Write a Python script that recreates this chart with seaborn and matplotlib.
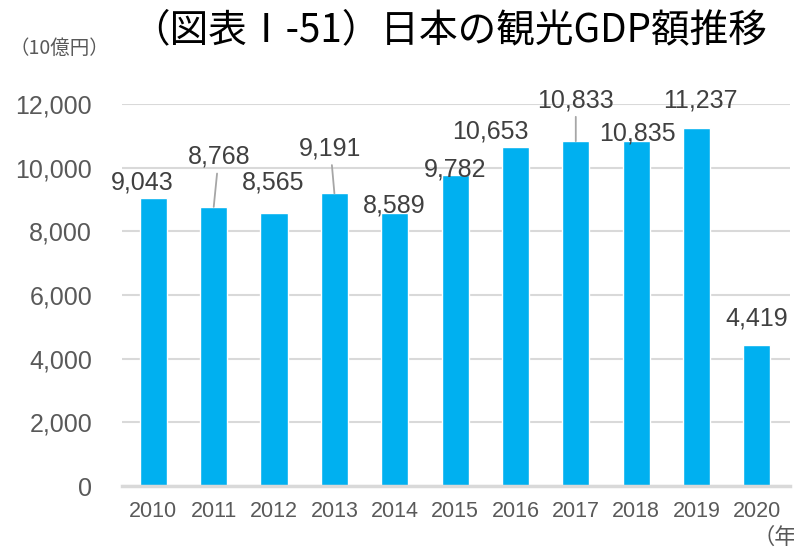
import matplotlib
matplotlib.use("Agg")
import matplotlib.pyplot as plt
import seaborn as sns
import pandas as pd

years = ["2010", "2011", "2012", "2013", "2014", "2015", "2016", "2017", "2018", "2019", "2020"]
values = [9043, 8768, 8565, 9191, 8589, 9782, 10653, 10833, 10835, 11237, 4419]
value_labels = ["9,043", "8,768", "8,565", "9,191", "8,589", "9,782", "10,653", "10,833", "10,835", "11,237", "4,419"]
y_ticks = [0, 2000, 4000, 6000, 8000, 10000, 12000]
title = "（図表Ⅰ-51）日本の観光GDP額推移"
unit_label = "（10億円）"
year_label = "（年"

# label placement (pixel offsets from the bar top) and leader-line flags
label_offsets = [(-11, 16), (5, 50), (-1, 31), (-4, 45), (-1, 7), (0, 5),
                 (-25, 15), (0, 41), (1, 8), (4, 28), (0, 27)]
leaders = [False, True, False, True, False, False, False, True, False, False, False]

sns.set_theme(style="white")
plt.rcParams["font.family"] = ["Liberation Sans", "DejaVu Sans"]

BAR = "#00B0F0"
TXT = "#595959"
GRID = "#D9D9D9"
CJK = ["Noto Sans CJK JP", "DejaVu Sans"]

df = pd.DataFrame({"year": years, "value": values})

fig = plt.figure(figsize=(7.94, 5.49), dpi=100)
ax = fig.add_axes([122 / 794, 1 - 486 / 549, (790 - 122) / 794, (486 - 104) / 549])

sns.barplot(data=df, x="year", y="value", color=BAR, width=0.45, saturation=1, ax=ax, zorder=3)

ax.set_xlim(-0.52, 10.55)
ax.set_ylim(0, 12000)
ax.set_yticks(y_ticks)
ax.set_yticklabels([f"{v:,}" for v in y_ticks], fontsize=18, color=TXT)
ax.set_xticks(range(len(years)))
ax.set_xticklabels(years, fontsize=15.5, color=TXT)
ax.tick_params(axis="both", length=0)
ax.tick_params(axis="y", pad=21.5)
ax.tick_params(axis="x", pad=11)
ax.set_xlabel("")
ax.set_ylabel("")

ax.grid(axis="y", color=GRID, lw=1.5, zorder=0)
ax.grid(axis="x", visible=False)
for s in ["top", "right", "left"]:
    ax.spines[s].set_visible(False)
ax.spines["bottom"].set_color(GRID)
ax.spines["bottom"].set_linewidth(2.5)
ax.spines["bottom"].set_zorder(4)

for i, (v, lab, off, ld) in enumerate(zip(values, value_labels, label_offsets, leaders)):
    kw = {}
    if ld:
        kw["arrowprops"] = dict(arrowstyle="-", color="#A6A6A6", lw=1.3, shrinkA=1, shrinkB=0)
    ax.annotate(lab, xy=(i, v), xytext=off, textcoords="offset pixels",
                ha="center", va="center", fontsize=18, color="#404040",
                annotation_clip=False, zorder=5, **kw)

fig.text(0.566, 0.945, title, ha="center", va="center", fontsize=27.8, color="#000000",
         family=CJK)
fig.text(0.012, 0.912, unit_label, ha="left", va="center", fontsize=14, color=TXT,
         family=CJK)
fig.text(0.948, 0.022, year_label, ha="left", va="center", fontsize=16, color=TXT,
         family=CJK)

fig.savefig("out.png", dpi=100, facecolor="white")
